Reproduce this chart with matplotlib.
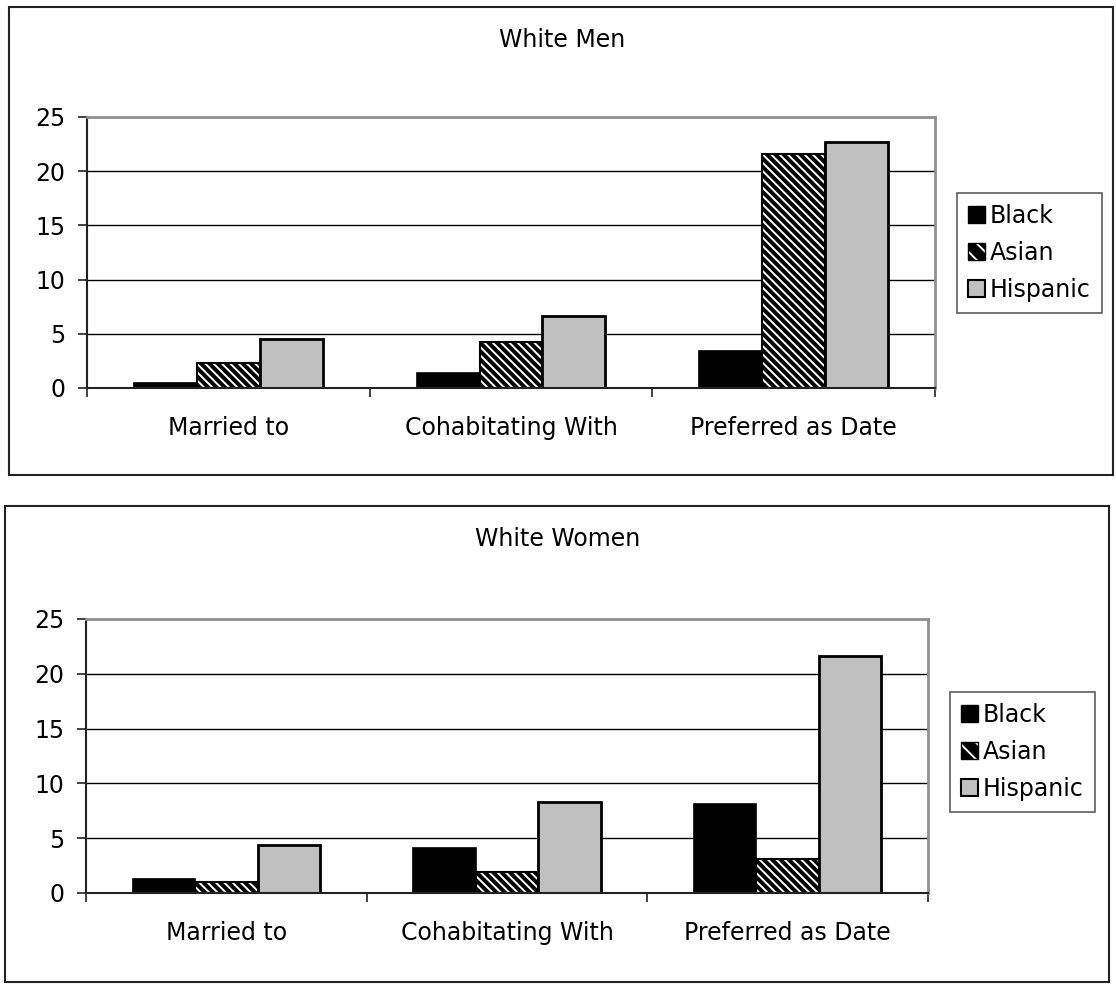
import matplotlib
matplotlib.use("Agg")
import matplotlib.pyplot as plt
from matplotlib.patches import Patch, Rectangle
from matplotlib.legend_handler import HandlerTuple
import numpy as np

plt.rcParams['font.family'] = ['DejaVu Sans']
plt.rcParams['hatch.linewidth'] = 1.4

categories = ["Married to", "Cohabitating With", "Preferred as Date"]
groups = ["Black", "Asian", "Hispanic"]

men_black = [0.5, 1.4, 3.4]
men_asian = [2.3, 4.2, 21.6]
men_hispanic = [4.5, 6.6, 22.7]

women_black = [1.3, 4.1, 8.1]
women_asian = [1.0, 1.9, 3.1]
women_hispanic = [4.4, 8.3, 21.6]

W, H = 1116, 985
FS = 17
fig = plt.figure(figsize=(W / 100, H / 100), dpi=100)


def px_box(x0, y0, x1, y1):
    # pixel box (top-left origin) -> figure fraction [l, b, w, h]
    return [x0 / W, 1 - y1 / H, (x1 - x0) / W, (y1 - y0) / H]


def frame(x0, y0, x1, y1):
    l, b, w, h = px_box(x0, y0, x1, y1)
    fig.add_artist(Rectangle((l, b), w, h, transform=fig.transFigure,
                             fill=False, edgecolor='#222222', lw=1.5))


def draw_panel(box, title, title_xy, series, legend_xy):
    ax = fig.add_axes(px_box(*box))
    x = np.arange(len(categories))
    bw = 1 / 4.5
    offs = [-bw, 0, bw]
    b, a, h = series
    ax.bar(x + offs[0], b, bw, color='black', edgecolor='black', lw=1.2, zorder=3)
    # hatch is drawn in the edge colour, so fill and outline go in two passes
    ax.bar(x + offs[1], a, bw, color='black', edgecolor='white', hatch='\\\\\\\\',
           lw=0, zorder=3)
    ax.bar(x + offs[1], a, bw, fill=False, edgecolor='black', lw=1.5, zorder=4)
    ax.bar(x + offs[2], h, bw, color='#c0c0c0', edgecolor='black', lw=2.0, zorder=3)

    ax.set_xlim(-0.5, 2.5)
    ax.set_ylim(0, 25)
    ax.set_yticks([0, 5, 10, 15, 20, 25])
    ax.yaxis.grid(True, color='black', lw=1.0, zorder=0)
    ax.set_axisbelow(True)
    ax.set_xticks(x)
    ax.set_xticklabels(categories)
    ax.set_xticks([-0.5, 0.5, 1.5, 2.5], minor=True)
    ax.tick_params(axis='x', which='major', length=0, pad=20, labelsize=FS)
    ax.tick_params(axis='x', which='minor', length=6.5, width=1.2, color='#222222')
    ax.tick_params(axis='y', length=6.5, width=1.2, color='#222222', pad=9, labelsize=FS)
    for s in ['top', 'right']:
        ax.spines[s].set_color('#909090')
        ax.spines[s].set_linewidth(2.0)
    for s in ['left', 'bottom']:
        ax.spines[s].set_color('#222222')
        ax.spines[s].set_linewidth(1.5)
    ax.spines['bottom'].set_zorder(5)

    fig.text(title_xy[0] / W, 1 - title_xy[1] / H, title, ha='center', va='center',
             fontsize=FS)

    hb = Patch(facecolor='black', edgecolor='black')
    ha_fill = Patch(facecolor='black', edgecolor='white', hatch='\\\\', lw=0)
    ha_edge = Patch(fill=False, edgecolor='black', lw=1)
    hh = Patch(facecolor='#c0c0c0', edgecolor='black', lw=1.5)
    leg = fig.legend([hb, (ha_fill, ha_edge), hh], groups,
                     handler_map={tuple: HandlerTuple(ndivide=1)},
                     loc='center left',
                     bbox_to_anchor=(legend_xy[0] / W, 1 - legend_xy[1] / H),
                     fontsize=FS, frameon=True, fancybox=False,
                     handlelength=0.75, handleheight=0.75, handletextpad=0.2,
                     labelspacing=0.55, borderpad=0.45, borderaxespad=0)
    leg.get_frame().set_edgecolor('#333333')
    leg.get_frame().set_linewidth(1.2)
    return ax


frame(9, 7, 1113, 475)
frame(5, 506, 1109, 982)

draw_panel((87, 117, 935, 388), "White Men", (562, 40),
           (men_black, men_asian, men_hispanic), (957, 253))
draw_panel((86, 619, 928, 893), "White Women", (558, 539),
           (women_black, women_asian, women_hispanic), (950, 752))

fig.savefig("out.png", dpi=100)
